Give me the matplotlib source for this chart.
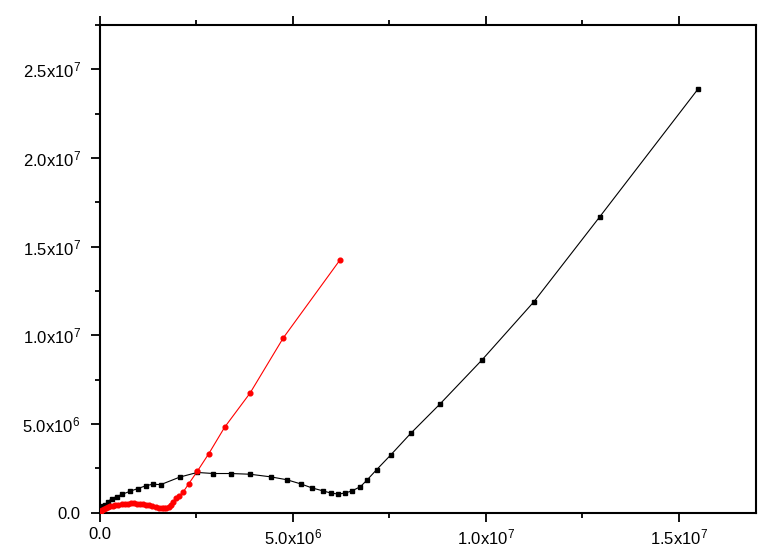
import matplotlib
matplotlib.use("Agg")
import matplotlib.pyplot as plt
from matplotlib.ticker import MultipleLocator, FuncFormatter

plt.rcParams["font.family"] = ["Liberation Sans", "DejaVu Sans"]
plt.rcParams["mathtext.default"] = "regular"

# black series (values in units of 1e6)
black_x = [0.0, 0.03, 0.06, 0.09, 0.13, 0.2, 0.3, 0.43, 0.58, 0.78, 0.98, 1.2, 1.38, 1.57,
           2.07, 2.52, 2.94, 3.39, 3.89, 4.43, 4.84, 5.21, 5.49, 5.78, 5.98, 6.18, 6.35,
           6.53, 6.75, 6.91, 7.17, 7.54, 8.05, 8.81, 9.90, 11.24, 12.95, 15.49]
black_y = [0.0, 0.12, 0.24, 0.34, 0.44, 0.6, 0.78, 0.9, 1.03, 1.2, 1.35, 1.52, 1.6, 1.57,
           2.0, 2.26, 2.2, 2.2, 2.16, 2.01, 1.85, 1.61, 1.39, 1.22, 1.1, 1.04, 1.1,
           1.22, 1.46, 1.81, 2.42, 3.26, 4.46, 6.12, 8.61, 11.88, 16.68, 23.87]

# red series (values in units of 1e6)
red_x = [0.0, 0.03, 0.06, 0.1, 0.15, 0.2, 0.26, 0.33, 0.4, 0.48, 0.56, 0.64, 0.72, 0.8,
         0.88, 0.96, 1.04, 1.12, 1.2, 1.28, 1.36, 1.44, 1.52, 1.6, 1.66, 1.72, 1.78,
         1.84, 1.9, 1.98, 2.06, 2.16, 2.3, 2.52, 2.82, 3.23, 3.89, 4.75, 6.22]
red_y = [0.0, 0.08, 0.14, 0.2, 0.26, 0.31, 0.35, 0.39, 0.42, 0.45, 0.47, 0.49, 0.5, 0.51,
         0.51, 0.5, 0.49, 0.47, 0.44, 0.41, 0.37, 0.32, 0.28, 0.25, 0.24, 0.27, 0.33,
         0.44, 0.6, 0.8, 0.96, 1.17, 1.62, 2.32, 3.32, 4.81, 6.74, 9.85, 14.25]

SCALE = 1e6


def sci_fmt(v, pos):
    if v == 0:
        return "0.0"
    exp = 0
    m = abs(v)
    while m >= 10:
        m /= 10
        exp += 1
    return f"{v / 10**exp:.1f}x10$^{{{exp}}}$"


fig = plt.figure(figsize=(7.72, 5.56), dpi=100)
ax = fig.add_axes([0.1295, 0.0782, 0.8498, 0.8768])

ax.plot([x * SCALE for x in black_x], [y * SCALE for y in black_y], color="black",
        lw=0.8, marker="s", ms=3.2, zorder=3)
ax.plot([x * SCALE for x in red_x], [y * SCALE for y in red_y], color="#ff0000",
        lw=0.8, marker="o", ms=3.4, zorder=4)

ax.set_xlim(0, 1.7e7)
ax.set_ylim(0, 2.75e7)

ax.xaxis.set_major_locator(MultipleLocator(5e6))
ax.xaxis.set_minor_locator(MultipleLocator(2.5e6))
ax.yaxis.set_major_locator(MultipleLocator(5e6))
ax.yaxis.set_minor_locator(MultipleLocator(2.5e6))
ax.xaxis.set_major_formatter(FuncFormatter(sci_fmt))
ax.yaxis.set_major_formatter(FuncFormatter(sci_fmt))

for spine in ax.spines.values():
    spine.set_linewidth(1.5)

ax.tick_params(which="major", direction="out", length=6.5, width=1.3, labelsize=12, pad=4)
ax.tick_params(which="minor", direction="out", length=3.5, width=1.3)
ax.tick_params(axis="y", which="major", pad=7.5)
ax.tick_params(which="both", top=True, right=False)

fig.savefig("out.png", dpi=100)
